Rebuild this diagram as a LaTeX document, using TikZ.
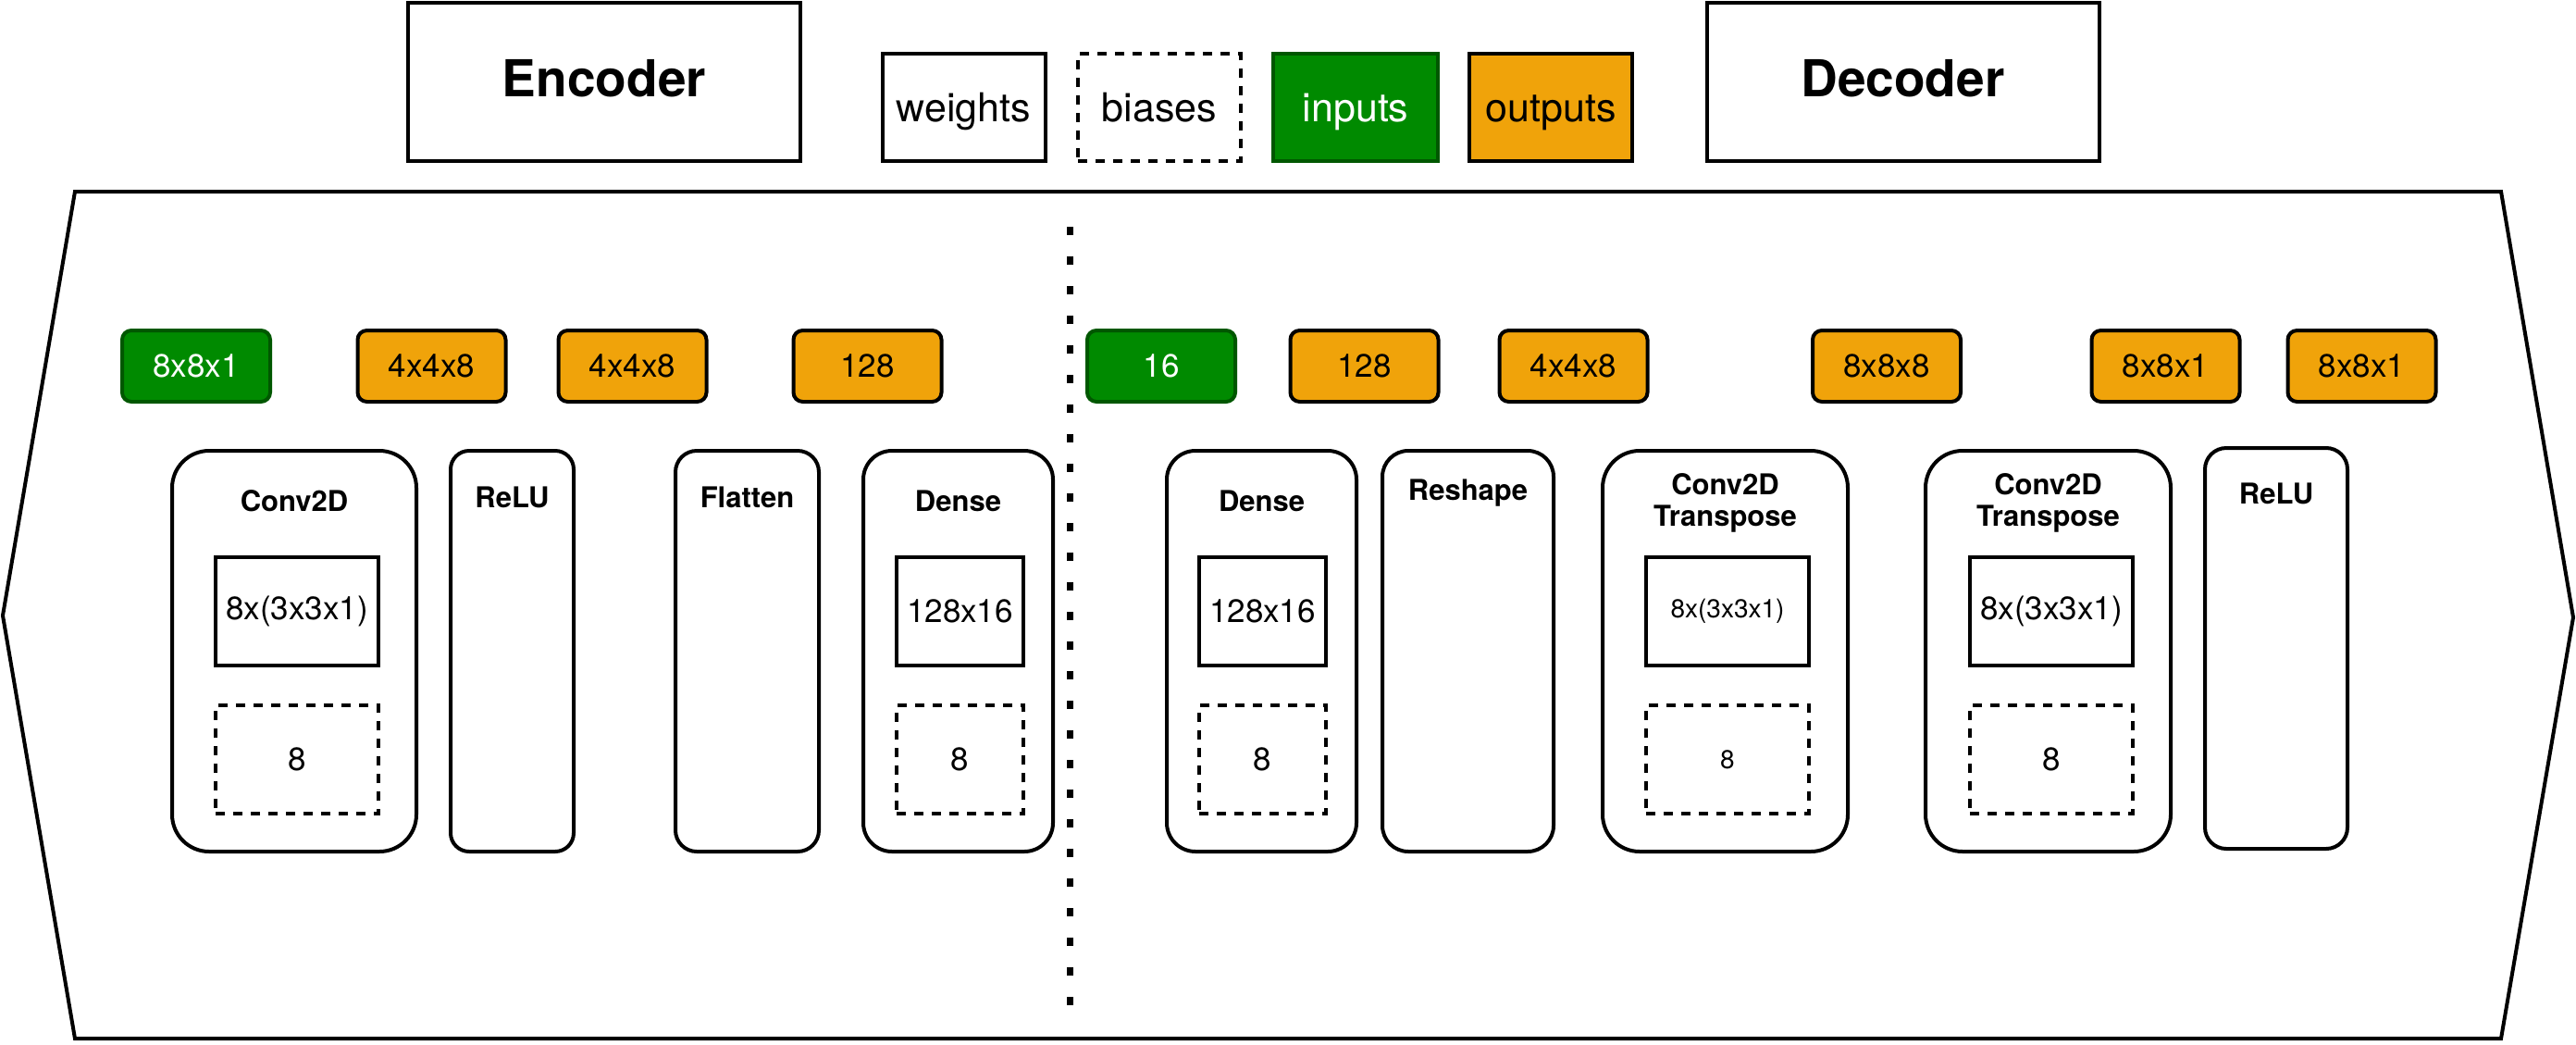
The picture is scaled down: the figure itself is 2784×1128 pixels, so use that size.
\documentclass[tikz,border=0pt]{standalone}
\usepackage{fontspec}
\setmainfont{TeX Gyre Heros}
\definecolor{ingreen}{HTML}{008A00}
\definecolor{ingreendark}{HTML}{005700}
\definecolor{outorange}{HTML}{F0A30A}
\begin{document}
\begin{tikzpicture}[x=1pt,y=-1pt,
  lw/.style={line width=4pt},
  titlebox/.style={draw, lw, inner sep=0pt, minimum width=424pt, minimum height=171pt, text height=40pt, text depth=7pt, font=\fontsize{55}{60}\selectfont\bfseries},
  legendbox/.style={draw, lw, inner sep=0pt, minimum width=176pt, minimum height=116pt, text height=31pt, text depth=0pt, font=\fontsize{43}{50}\selectfont},
  tensor/.style={draw, lw, rounded corners=10pt, inner sep=0pt, minimum width=160pt, minimum height=77pt, font=\fontsize{35}{40}\selectfont},
  intensor/.style={tensor, fill=ingreen, draw=ingreendark, text=white},
  outtensor/.style={tensor, fill=outorange, draw=black},
  layer/.style={draw, lw, inner sep=0pt, minimum height=433pt},
  wbox/.style={draw, lw, inner sep=0pt, minimum height=117pt, font=\fontsize{35}{40}\selectfont},
  bbox/.style={wbox, dashed, dash pattern=on 10pt off 9pt},
  ltitle/.style={inner sep=0pt, align=center, font=\fontsize{31}{34}\selectfont\bfseries},
]
\useasboundingbox (0,0) rectangle (2784,1128);

% outer frame
\draw[lw, line join=miter] (81,207) -- (2703,207) -- (2781,667) -- (2703,1122) -- (81,1122) -- (3,665) -- cycle;

% top title and legend boxes
\node[titlebox] (enc) at (653,88) {Encoder};
\node[titlebox] (dec) at (2056.5,88) {Decoder};
\node[legendbox] (lw1) at (1041.5,116) {weights};
\node[legendbox, dashed, dash pattern=on 10pt off 9pt] (lb1) at (1253,116) {biases};
\node[legendbox, fill=ingreen, draw=ingreendark, text=white, minimum width=178pt] (li1) at (1465,116) {inputs};
\node[legendbox, fill=outorange] (lo1) at (1676,116) {outputs};

% divider
\coordinate (dtop) at (1156,245);
\coordinate (dbot) at (1156,1090);
\draw[line width=7pt, dash pattern=on 9pt off 23pt] (dtop) -- (dbot);

% tensors
\node[intensor] (t1) at (212,395.5) {8x8x1};
\node[outtensor] (t2) at (466.5,395.5) {4x4x8};
\node[outtensor] (t3) at (683.5,395.5) {4x4x8};
\node[outtensor] (t4) at (937.5,395.5) {128};
\node[intensor] (t5) at (1255,395.5) {16};
\node[outtensor] (t6) at (1474.5,395.5) {128};
\node[outtensor] (t7) at (1700.5,395.5) {4x4x8};
\node[outtensor] (t8) at (2039,395.5) {8x8x8};
\node[outtensor] (t9) at (2340.5,395.5) {8x8x1};
\node[outtensor] (t10) at (2552.5,395.5) {8x8x1};

% layers
\node[layer, rounded corners=40pt, minimum width=264pt] (conv) at (318,703.5) {};
\node[layer, rounded corners=20pt, minimum width=133pt] (relu) at (553.5,703.5) {};
\node[layer, rounded corners=23pt, minimum width=155pt] (flat) at (807.5,703.5) {};
\node[layer, rounded corners=31pt, minimum width=205pt] (dense) at (1035.5,703.5) {};
\node[layer, rounded corners=31pt, minimum width=205pt] (ddense) at (1363.5,703.5) {};
\node[layer, rounded corners=28pt, minimum width=185pt] (resh) at (1586.5,703.5) {};
\node[layer, rounded corners=40pt, minimum width=265pt] (convt1) at (1864.5,703.5) {};
\node[layer, rounded corners=40pt, minimum width=265pt] (convt2) at (2213.5,703.5) {};
\node[layer, rounded corners=23pt, minimum width=154pt] (relu2) at (2460,700.5) {};

% layer titles
\node[ltitle] (convT) at (318,541) {Conv2D};
\node[ltitle] (reluT) at (553.5,537) {ReLU};
\node[ltitle] (flatT) at (807.5,537) {Flatten};
\node[ltitle] (denseT) at (1035.5,541) {Dense};
\node[ltitle] (ddenseT) at (1363.5,541) {Dense};
\node[ltitle] (reshT) at (1586.5,533) {Reshape};
\node[ltitle] (convt1T) at (1864.5,543) {Conv2D\\Transpose};
\node[ltitle] (convt2T) at (2213.5,543) {Conv2D\\Transpose};
\node[ltitle] (relu2T) at (2460,533) {ReLU};

% weights
\node[wbox, minimum width=176pt] (convW) at (321,660.5) {8x(3x3x1)};
\node[wbox, minimum width=137pt] (denseW) at (1037.5,660.5) {128x16};
\node[wbox, minimum width=137pt] (ddenseW) at (1364.5,660.5) {128x16};
\node[wbox, minimum width=176pt, font=\fontsize{28}{32}\selectfont] (convt1W) at (1867,660.5) {8x(3x3x1)};
\node[wbox, minimum width=176pt] (convt2W) at (2217,660.5) {8x(3x3x1)};

% biases
\node[bbox, minimum width=176pt] (convB) at (321,820.5) {8};
\node[bbox, minimum width=137pt] (denseB) at (1037.5,820.5) {8};
\node[bbox, minimum width=137pt] (ddenseB) at (1364.5,820.5) {8};
\node[bbox, minimum width=176pt, font=\fontsize{28}{32}\selectfont] (convt1B) at (1867,820.5) {8};
\node[bbox, minimum width=176pt] (convt2B) at (2217,820.5) {8};
\end{tikzpicture}
\end{document}
